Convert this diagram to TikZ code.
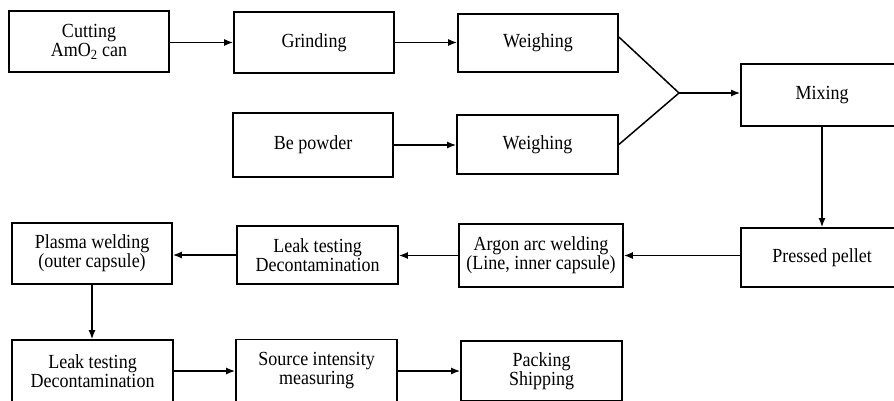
\documentclass[tikz,border=0pt]{standalone}
\usepackage{fontspec}
\setmainfont{Liberation Serif}[FakeStretch=0.9]
\usetikzlibrary{arrows.meta}
\begin{document}
\begin{tikzpicture}[x=1pt,y=-1pt,
  box/.style={draw, line width=1.7pt, rectangle, inner sep=0pt, align=center,
    font=\fontsize{20}{19}\selectfont},
  conn/.style={line width=1.5pt, -{Latex[length=9pt,width=7pt]}},
  plain/.style={line width=1.5pt}]
\useasboundingbox (0,0) rectangle (894,400);
\clip (0,0) rectangle (894,400);
% row 1
\node[box, minimum width=160, minimum height=61] (cut) at (89,41.5) {Cutting\\AmO\textsubscript{2} can};
\node[box, minimum width=160, minimum height=61] (grind) at (314,42.5) {Grinding};
\node[box, minimum width=160, minimum height=58] (weigh1) at (538,43) {Weighing};
\node[box, minimum width=160, minimum height=64] (bepow) at (313,145) {Be powder};
\node[box, minimum width=161, minimum height=59] (weigh2) at (537.5,144.5) {Weighing};
\node[box, minimum width=162, minimum height=62] (mix) at (822,95) {Mixing};
% row 3
\node[box, minimum width=162, minimum height=59] (pellet) at (822,257.5) {Pressed pellet};
\node[box, minimum width=164, minimum height=63] (argon) at (541,255.5) {Argon arc welding\\(Line, inner capsule)};
\node[box, minimum width=161, minimum height=58] (leak1) at (317.5,255) {Leak testing\\Decontamination};
\node[box, minimum width=160, minimum height=61] (plasma) at (92,253.5) {Plasma welding\\(outer capsule)};
% row 4
\node[box, minimum width=161, minimum height=62] (leak2) at (92.5,371) {Leak testing\\Decontamination};
\node[box, minimum width=161, minimum height=63] (source) at (316.5,371) {Source intensity\\measuring};
\node[box, minimum width=161, minimum height=60] (pack) at (541.5,371) {Packing\\Shipping};
\coordinate (j) at (679,93);
% connectors
\draw[conn] (cut.east |- grind.west) -- (grind.west);
\draw[conn] (grind.east) -- (grind.east -| weigh1.west);
\draw[conn] (bepow.east) -- (bepow.east -| weigh2.west);
\draw[plain] ([yshift=6pt]weigh1.east) -- (j);
\draw[plain] (weigh2.east) -- (j);
\draw[conn] (j) -- (j -| mix.west);
\draw[conn] (mix.south) -- (pellet.north);
\draw[conn] (argon.east -| pellet.west) -- (argon.east);
\draw[conn] (argon.west) -- (argon.west -| leak1.east);
\draw[conn] (leak1.west) -- (leak1.west -| plasma.east);
\draw[conn] (plasma.south) -- (plasma.south |- leak2.north);
\draw[conn] (leak2.east) -- (leak2.east -| source.west);
\draw[conn] (source.east) -- (source.east -| pack.west);
\end{tikzpicture}
\end{document}
